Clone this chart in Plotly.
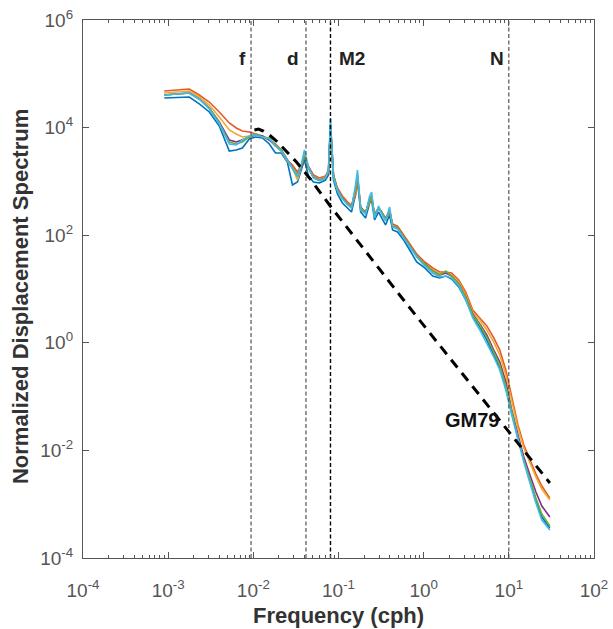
import numpy as np
import plotly.graph_objects as go

# ---------------- data ----------------
freq = [9.0e-4, 1.28e-3, 1.77e-3, 2.32e-3, 3.04e-3, 3.98e-3, 5.22e-3, 6.31e-3, 7.43e-3, 8.98e-3,
        1.06e-2, 1.28e-2, 1.54e-2, 1.82e-2, 2.13e-2, 2.51e-2, 2.88e-2, 3.30e-2, 3.67e-2, 3.98e-2,
        4.44e-2, 5.08e-2, 5.98e-2, 7.03e-2, 7.62e-2, 8.05e-2, 8.73e-2, 9.73e-2, 0.111, 0.128,
        0.142, 0.158, 0.167, 0.182, 0.208, 0.232, 0.245, 0.265, 0.296, 0.321,
        0.357, 0.398, 0.432, 0.494, 0.582, 0.685, 0.828, 1.03, 1.28, 1.54,
        1.82, 2.13, 2.58, 3.12, 3.77, 4.56, 5.51, 6.66, 7.83, 9.22,
        10.8, 12.8, 15.0, 17.7, 20.8, 24.4, 30.3]

spec_blue = [35500, 36300, 37100, 27500, 19500, 10700, 3670, 3840, 4180, 6140,
             6690, 6410, 4960, 3370, 3370, 2290, 857, 975, 1630, 2500,
             1260, 975, 934, 1060, 1320, 10300, 1060, 583, 397, 320,
             270, 559, 1060, 270, 209, 397, 451, 192, 270, 209,
             155, 237, 125, 115, 81.4, 53.1, 31.8, 24.6, 17.4, 16.0,
             17.4, 15.3, 10.9, 6.25, 3.15, 1.97, 1.13, 0.593, 0.340, 0.145,
             0.0496, 0.0170, 0.00663, 0.00270, 0.00120, 0.000578, 0.000361]

spec_red = [47900, 50000, 52200, 40400, 29900, 19500, 12200, 9830, 8650, 8280,
            7600, 6980, 5880, 4960, 3840, 2500, 2020, 1500, 2020, 2840,
            1930, 1320, 1160, 1260, 1630, 9830, 1260, 754, 535, 414,
            364, 535, 975, 334, 270, 414, 451, 248, 320, 270,
            209, 270, 162, 148, 101, 68.6, 44.7, 31.8, 24.6, 20.7,
            20.7, 19.8, 14.7, 8.80, 4.07, 2.89, 2.06, 1.23, 0.735, 0.312,
            0.0942, 0.0297, 0.0126, 0.00663, 0.00364, 0.00218, 0.00130]

spec_yellow = [44000, 45900, 47900, 37100, 26300, 15700, 9030, 7600, 6690, 6980,
               7600, 6690, 6140, 4550, 3670, 2390, 1770, 1060, 1850, 2970,
               1770, 1160, 1060, 1210, 1500, 10700, 1260, 692, 491, 380,
               334, 635, 1160, 320, 259, 451, 513, 228, 320, 259,
               192, 294, 148, 136, 92.6, 63.0, 41.1, 29.2, 22.6, 19.0,
               20.7, 18.2, 13.5, 7.74, 3.74, 2.65, 1.73, 1.03, 0.593, 0.252,
               0.0794, 0.0261, 0.0111, 0.00583, 0.00320, 0.00192, 0.00120]

spec_purple = [40400, 42100, 44000, 34000, 23100, 12700, 5880, 5400, 5880, 6690,
               7290, 6980, 5880, 4550, 3840, 2500, 1770, 1260, 1930, 2970,
               1770, 1210, 1060, 1160, 1500, 11700, 1320, 692, 491, 380,
               334, 692, 1260, 320, 259, 471, 535, 228, 320, 270,
               192, 294, 148, 136, 92.6, 63.0, 41.1, 29.2, 21.6, 18.2,
               19.8, 17.4, 12.4, 7.10, 3.43, 2.24, 1.40, 0.735, 0.440, 0.187,
               0.0564, 0.0193, 0.00754, 0.00349, 0.00169, 0.000926, 0.000578]

spec_green = [40400, 42100, 44000, 34000, 23100, 12200, 5400, 4960, 5400, 6690,
              7600, 6690, 6410, 4750, 3840, 2500, 1850, 1320, 2020, 3100,
              1770, 1210, 1060, 1160, 1500, 11200, 1320, 692, 491, 380,
              334, 692, 1320, 320, 259, 451, 535, 228, 320, 270,
              192, 294, 148, 136, 92.6, 63.0, 41.1, 29.2, 21.6, 18.2,
              21.6, 17.4, 12.4, 7.10, 3.29, 2.14, 1.28, 0.675, 0.387, 0.157,
              0.0517, 0.0170, 0.00663, 0.00282, 0.00130, 0.000657, 0.000393]

spec_cyan = [40400, 42100, 44000, 34000, 22200, 11700, 4960, 4750, 5880, 6980,
             7290, 6690, 6140, 4550, 3670, 2500, 1770, 1210, 2110, 3840,
             1850, 1160, 1020, 1160, 1630, 15100, 1160, 663, 471, 364,
             320, 821, 1630, 294, 248, 535, 635, 209, 349, 248,
             184, 334, 142, 130, 88.7, 60.4, 39.3, 26.8, 19.8, 16.7,
             17.4, 16.0, 11.4, 6.25, 2.89, 1.73, 0.991, 0.545, 0.312, 0.133,
             0.0455, 0.0156, 0.00609, 0.00248, 0.00105, 0.000508, 0.000331]

# GM79 reference spectrum
gm_freq = [0.0103, 0.0115, 0.0131, 0.0154, 0.0187, 0.0245, 0.0321, 0.0456, 0.0784, 0.522, 1.18, 30.3]
gm_val = [9030, 9420, 8650, 7290, 5640, 3670, 2290, 1160, 364, 7.74, 1.52, 0.00248]

# marker frequencies (cph)
mark_names = ["f", "d", "M2", "N"]
mark_freq = [0.0094, 0.0415, 0.0805, 10.0]

# axis ticks
x_tickvals = [1e-4, 1e-3, 1e-2, 1e-1, 1e0, 1e1, 1e2]
x_ticktext = ["10<sup>-4</sup>", "10<sup>-3</sup>", "10<sup>-2</sup>", "10<sup>-1</sup>",
              "10<sup>0</sup>", "10<sup>1</sup>", "10<sup>2</sup>"]
y_tickvals = [1e-4, 1e-2, 1e0, 1e2, 1e4, 1e6]
y_ticktext = ["10<sup>-4</sup>", "10<sup>-2</sup>", "10<sup>0</sup>", "10<sup>2</sup>",
              "10<sup>4</sup>", "10<sup>6</sup>"]
y_span = [1e-4, 1e6]
x_minor = [m * 10.0 ** e for e in range(-4, 2) for m in range(2, 10)]

# ---------------- figure ----------------
FONT = "Liberation Sans, Arial, Helvetica, sans-serif"
fig = go.Figure()

series = [
    (spec_blue, "#0072BD"),
    (spec_red, "#E8572A"),
    (spec_yellow, "#F0A92A"),
    (spec_purple, "#7E2F8E"),
    (spec_green, "#77AC30"),
    (spec_cyan, "#3DBAEB"),
]
for vals, col in series:
    fig.add_trace(go.Scatter(x=freq, y=vals, mode="lines",
                             line=dict(color=col, width=1.6), showlegend=False,
                             hoverinfo="skip"))

for name, fr in zip(mark_names, mark_freq):
    fig.add_trace(go.Scatter(x=[fr, fr], y=y_span, mode="lines",
                             line=dict(color="#000000" if name == "M2" else "#444444",
                                       width=1.4 if name == "M2" else 1.1,
                                       dash="4px,2.5px"),
                             showlegend=False, hoverinfo="skip"))

fig.add_trace(go.Scatter(x=gm_freq, y=gm_val, mode="lines",
                         line=dict(color="#000000", width=3, dash="10px,7px"),
                         showlegend=False, hoverinfo="skip"))

annotations = []
shifts = {"f": ("right", -3), "d": ("right", -5), "M2": ("left", 7), "N": ("right", -3)}
for name, fr in zip(mark_names, mark_freq):
    anchor, sh = shifts[name]
    annotations.append(dict(x=np.log10(fr), y=0.929, xref="x", yref="paper",
                            text="<b>%s</b>" % name, showarrow=False,
                            xanchor=anchor, yanchor="middle", xshift=sh,
                            font=dict(family=FONT, size=19, color="#222222")))
annotations.append(dict(x=np.log10(3.68), y=-1.435, xref="x", yref="y",
                        text="<b>GM79</b>", showarrow=False,
                        xanchor="center", yanchor="middle",
                        font=dict(family=FONT, size=20, color="#111111")))
annotations.append(dict(x=0.5, y=0, xref="paper", yref="paper",
                        text="<b>Frequency (cph)</b>", showarrow=False,
                        xanchor="center", yanchor="middle", yshift=-57,
                        font=dict(family=FONT, size=22, color="#333333")))
annotations.append(dict(x=0, y=0.485, xref="paper", yref="paper",
                        text="<b>Normalized Displacement Spectrum</b>", showarrow=False,
                        textangle=-90, xanchor="center", yanchor="middle", xshift=-63,
                        font=dict(family=FONT, size=22, color="#333333")))

axis_common = dict(type="log", showgrid=False, zeroline=False, showline=True,
                   linecolor="#555555", linewidth=1.2, mirror="ticks",
                   ticks="inside", ticklen=6, tickwidth=1, tickcolor="#555555",
                   automargin=False, ticklabeloverflow="allow",
                   tickfont=dict(family=FONT, size=19, color="#555555"))

fig.update_layout(
    width=613, height=629,
    margin=dict(l=83, r=19, t=20, b=71, autoexpand=False),
    paper_bgcolor="white", plot_bgcolor="white",
    xaxis=dict(range=[-4, 2], tickmode="array", tickvals=x_tickvals, ticktext=x_ticktext,
               ticklabelstandoff=15,
               minor=dict(tickmode="array", tickvals=x_minor, ticks="inside", ticklen=3,
                          tickcolor="#555555", showgrid=False),
               **axis_common),
    yaxis=dict(range=[-4, 6], tickmode="array", tickvals=y_tickvals, ticktext=y_ticktext,
               ticklabelstandoff=5,
               **axis_common),
    annotations=annotations,
    font=dict(family=FONT),
)

# remove the default 8px page margin so the figure fills the window exactly
fig.write_html("out.html", config={"displayModeBar": False},
               post_script="document.body.style.margin='0px';")
